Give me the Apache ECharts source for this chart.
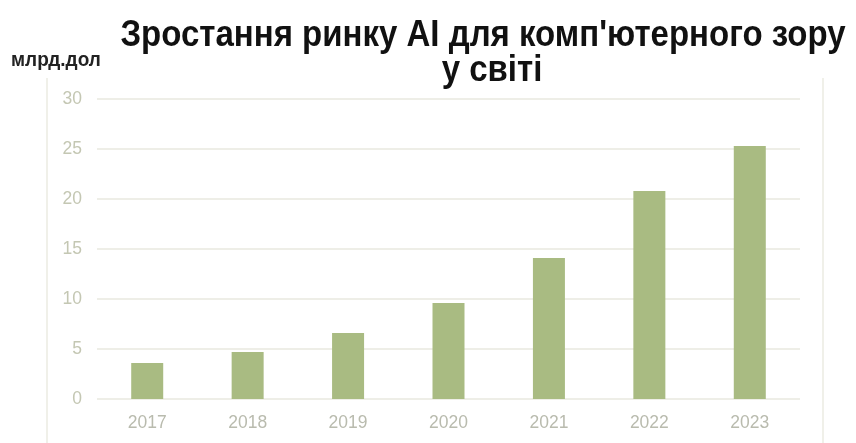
<!DOCTYPE html>
<html>
<head>
<meta charset="utf-8">
<script src="https://cdn.jsdelivr.net/npm/echarts@6/dist/echarts.min.js"></script>
<style>
  html, body { margin: 0; padding: 0; background: #fff; }
  #chart { width: 856px; height: 443px; }
</style>
</head>
<body>
<div id="chart"></div>
<script>
// Computer-vision AI market size worldwide, billion USD
const years = ['2017', '2018', '2019', '2020', '2021', '2022', '2023'];
const marketValues = [3.6, 4.7, 6.6, 9.6, 14.1, 20.8, 25.3];
const yTicks = { min: 0, max: 30, interval: 5 };
const titleLines = ["Зростання ринку AI для комп'ютерного зору", 'у світі'];
const unitLabel = 'млрд.дол';

const chart = echarts.init(document.getElementById('chart'), null, { renderer: 'canvas' });

const labelFont = '"Liberation Sans", Arial, sans-serif';

chart.setOption({
  backgroundColor: '#ffffff',
  animation: false,
  grid: { left: 97, right: 56, top: 99, bottom: 44, containLabel: false },
  xAxis: {
    type: 'category',
    data: years,
    axisLine: { show: false },
    axisTick: { show: false },
    axisLabel: { color: '#b9bbae', fontSize: 17.5, fontFamily: labelFont, margin: 15 }
  },
  yAxis: {
    type: 'value',
    min: yTicks.min,
    max: yTicks.max,
    interval: yTicks.interval,
    axisLine: { show: false },
    axisTick: { show: false },
    axisLabel: { color: '#c4c7b3', fontSize: 17.5, fontFamily: labelFont, margin: 15 },
    splitLine: { lineStyle: { color: '#eeeee7', width: 2 } }
  },
  series: [{
    type: 'bar',
    data: marketValues,
    barWidth: 32,
    itemStyle: { color: '#a9bb82' }
  }],
  graphic: [
    // faint outer frame of the chart area
    { type: 'line', shape: { x1: 47, y1: 78, x2: 47, y2: 443 }, style: { stroke: '#f0f0e9', lineWidth: 2 } },
    { type: 'line', shape: { x1: 823, y1: 78, x2: 823, y2: 443 }, style: { stroke: '#f0f0e9', lineWidth: 2 } },
    {
      type: 'text', x: 483, y: 54, scaleY: 1.1,
      style: {
        text: titleLines[0], fill: '#111', align: 'center', verticalAlign: 'bottom',
        font: 'bold 33px "Liberation Sans", Arial, sans-serif'
      }
    },
    {
      type: 'text', x: 492, y: 89, scaleY: 1.1,
      style: {
        text: titleLines[1], fill: '#111', align: 'center', verticalAlign: 'bottom',
        font: 'bold 33px "Liberation Sans", Arial, sans-serif'
      }
    },
    {
      type: 'text', x: 11, y: 71, scaleY: 1.1,
      style: {
        text: unitLabel, fill: '#222', align: 'left', verticalAlign: 'bottom',
        font: 'bold 19px "Liberation Sans", Arial, sans-serif'
      }
    }
  ]
});
</script>
</body>
</html>
